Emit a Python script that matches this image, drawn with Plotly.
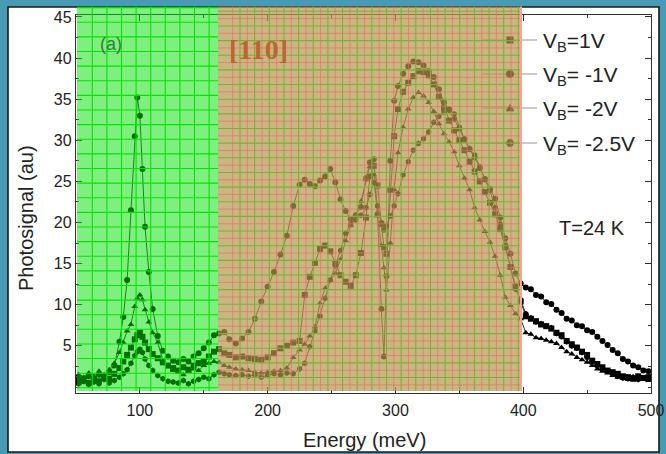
import math
import plotly.graph_objects as go

# ---- data: photosignal spectra at four bias voltages ----
energy = [52, 56, 60, 64, 68, 72, 76, 80, 84, 87, 90, 93, 96, 98, 100, 102, 104, 107, 110, 114,
          118, 122, 126, 130, 134, 138, 142, 146, 150, 154, 158,
          162, 166, 170, 175, 180, 185, 190, 195, 200, 205, 210, 215, 220, 225, 229, 233, 237, 241,
          245, 249, 253, 257, 261, 265, 269, 273, 277, 280, 283, 286, 289, 291, 293, 296, 299, 302,
          306, 310, 314, 318, 322, 326, 330, 334, 338, 342, 346, 350, 354, 358, 362, 366, 370, 374,
          378, 382, 386, 390, 394, 398,
          402, 406, 410, 414, 418, 422, 426, 430, 434, 438, 442, 446, 450, 454, 458, 462, 466, 470,
          474, 478, 482, 486, 490, 494, 498]

vb_p1 = [0.6, 1.0, 0.5, 0.9, 0.7, 1.2, 1.0, 1.6, 2.3, 3.1, 3.9, 4.8, 5.8, 6.3, 6.6, 6.1, 5.4, 4.6, 4.0, 3.5,
         3.0, 2.6, 2.3, 2.0, 2.4, 2.1, 2.6, 2.9, 3.1, 3.7, 4.3,
         4.6, 4.1, 3.9, 3.6, 3.7, 3.5, 3.4, 3.3, 3.6, 4.1, 4.7, 5.0, 5.4, 5.6, 11.2, 13.4, 15.1, 16.8,
         17.2, 16.5, 15.1, 13.6, 12.8, 12.3, 13.6, 16.3, 20.6, 25.6, 26.9, 24.5, 19.8, 17.0, 16.2, 24.0, 30.5, 33.8,
         35.9, 37.0, 37.8, 38.4, 38.3, 37.9, 36.8, 35.3, 33.9, 32.4, 31.2, 30.0, 28.8, 27.4, 26.2, 25.0, 23.7, 22.4,
         21.0, 19.2, 17.0, 14.6, 12.2, 10.4,
         8.6, 8.3, 8.0, 7.6, 7.4, 7.1, 6.6, 6.3, 5.6, 5.2, 4.8, 4.3, 3.9, 3.2, 2.8, 2.4, 2.0, 1.8,
         1.6, 1.3, 1.2, 1.0, 1.3, 1.1, 1.2]

vb_m1 = [1.0, 0.7, 1.3, 0.9, 1.5, 1.1, 1.8, 2.6, 5.5, 8.5, 13.0, 21.5, 30.5, 35.2, 33.0, 26.5, 19.5, 14.0, 9.5, 6.2,
         4.4, 3.7, 3.2, 3.0, 3.4, 3.1, 3.7, 4.1, 4.7, 5.4, 6.3,
         6.5, 6.7, 5.8, 5.3, 5.9, 6.7, 8.3, 10.4, 12.2, 14.0, 16.1, 18.4, 22.0, 24.6, 25.2, 24.7, 24.4, 25.1,
         25.6, 26.5, 24.9, 22.8, 21.4, 20.4, 20.9, 21.9, 25.4, 27.3, 27.7, 21.0, 9.5, 3.7, 13.5, 27.5, 34.8, 36.6,
         38.1, 39.0, 39.6, 39.5, 39.1, 38.4, 37.7, 36.2, 34.6, 33.7, 32.6, 31.4, 30.1, 28.9, 27.9, 26.6, 25.3, 24.1,
         22.9, 20.6, 18.1, 16.2, 13.8, 12.6,
         12.1, 11.9, 11.2, 11.0, 10.3, 10.1, 9.4, 9.0, 8.3, 8.1, 7.5, 7.4, 6.9, 6.7, 6.1, 5.6, 5.1, 4.5,
         4.1, 3.4, 3.1, 2.6, 2.4, 2.0, 1.9]

vb_m2 = [1.5, 1.2, 1.7, 1.3, 1.9, 1.5, 2.1, 2.9, 4.2, 5.4, 6.8, 7.6, 9.8, 10.8, 11.2, 10.6, 9.4, 7.9, 6.6, 5.4,
         3.2, 2.6, 2.0, 1.8, 1.5, 1.9, 2.2, 2.0, 2.6, 2.9, 3.1,
         3.0, 2.6, 2.4, 2.2, 2.1, 2.0, 1.8, 1.7, 1.8, 1.9, 2.0, 2.3, 3.6, 4.5, 5.2, 6.2, 7.3, 10.2,
         12.0, 13.0, 13.8, 15.5, 17.8, 19.6, 20.9, 22.6, 25.2, 26.8, 25.8, 20.8, 17.2, 14.5, 11.8, 17.5, 24.0, 28.5,
         31.6, 33.8, 35.2, 35.8, 35.4, 34.6, 33.5, 32.0, 30.8, 29.8, 28.6, 26.9, 25.4, 24.0, 21.8, 20.3, 18.9, 17.6,
         15.9, 13.6, 10.9, 9.9, 8.9, 8.3,
         6.6, 6.4, 6.0, 5.9, 5.7, 5.5, 5.3, 4.8, 4.3, 4.0, 3.6, 3.3, 3.0, 2.6, 2.2, 1.9, 1.7, 1.4,
         1.2, 1.1, 0.9, 1.2, 0.9, 1.0, 0.8]

vb_m25 = [0.4, 0.8, 0.3, 0.6, 0.4, 0.9, 0.5, 0.8, 1.2, 1.6, 2.1, 2.9, 3.8, 4.3, 4.6, 4.2, 3.4, 2.6, 2.0, 1.4,
          1.0, 0.7, 0.6, 0.5, 0.8, 0.4, 0.7, 0.9, 1.2, 1.0, 1.5,
          1.8, 1.6, 1.5, 1.4, 1.5, 1.3, 1.5, 1.2, 1.4, 1.6, 1.5, 1.7, 1.6, 2.2, 2.9, 4.9, 6.8, 8.6,
          10.8, 13.0, 14.7, 16.6, 18.7, 19.8, 20.3, 20.9, 21.8, 23.4, 24.9, 22.0, 20.0, 19.1, 19.6, 20.8, 22.0, 23.5,
          25.8, 27.4, 28.8, 29.6, 30.2, 31.0, 32.2, 32.9, 33.4, 33.8, 33.2, 31.6, 30.2, 29.0, 28.2, 26.8, 25.2, 23.9,
          21.8, 19.8, 17.2, 14.6, 11.9, 10.6,
          8.9, 8.4, 7.9, 7.7, 7.4, 7.2, 6.5, 6.1, 5.5, 5.0, 4.7, 4.2, 3.6, 3.1, 2.6, 2.2, 1.9, 1.6,
          1.3, 1.1, 1.0, 1.2, 0.9, 1.1, 1.0]

series_names = ["V<sub>B</sub>=1V", "V<sub>B</sub>= -1V", "V<sub>B</sub>= -2V", "V<sub>B</sub>= -2.5V"]
series_values = [vb_p1, vb_m1, vb_m2, vb_m25]
series_symbols = ["square", "circle", "triangle-up", "hexagon"]

x_ticks = [100, 200, 300, 400, 500]
y_ticks = [5, 10, 15, 20, 25, 30, 35, 40, 45]

# ---- page geometry (pixels) ----
W, H = 666, 454
ML, MR, MT, MB = 76, 15, 15, 61
PW, PH = W - ML - MR, H - MT - MB


def px(x):
    return (x - ML) / PW


def py(y):
    return (H - MB - y) / PH


FONT = "Arial, Liberation Sans, sans-serif"
AXC = "#333333"

fig = go.Figure()

for name, vals, sym in zip(series_names, series_values, series_symbols):
    fig.add_trace(go.Scatter(
        x=energy, y=vals, mode="lines+markers", name=name, showlegend=False,
        line=dict(color="rgb(45,45,45)", width=1),
        marker=dict(symbol=sym, size=6, color="black"),
    ))

shapes = []
# white panel with dark frame
shapes.append(dict(type="rect", xref="paper", yref="paper", layer="below",
                   x0=px(8), x1=px(659), y0=py(452), y1=py(7),
                   fillcolor="white", line=dict(color="#1a1a1a", width=1.6)))


def vline(x, y0, y1, color, width, layer="above"):
    return dict(type="line", xref="paper", yref="paper", layer=layer,
                x0=px(x), x1=px(x), y0=py(y0), y1=py(y1), line=dict(color=color, width=width))


def hline(y, x0, x1, color, width, layer="above"):
    return dict(type="line", xref="paper", yref="paper", layer=layer,
                x0=px(x0), x1=px(x1), y0=py(y), y1=py(y), line=dict(color=color, width=width))


def poly(cx, cy, r, n, rot):
    pts = [(cx + r * math.cos(rot + 2 * math.pi * i / n), cy + r * math.sin(rot + 2 * math.pi * i / n))
           for i in range(n)]
    return "M " + " L ".join(f"{px(a):.5f},{py(b):.5f}" for a, b in pts) + " Z"


# legend keys (drawn beneath the tinted band)
LEG_X0, LEG_X1, LEG_MX = 483, 537, 510
LEG_Y = [40, 74, 108, 143]
for sym, ly in zip(series_symbols, LEG_Y):
    shapes.append(hline(ly, LEG_X0, LEG_X1, "rgb(150,150,150)", 1.2, layer="below"))
    if sym == "square":
        path = poly(LEG_MX, ly, 4.6, 4, math.pi / 4)
    elif sym == "circle":
        path = poly(LEG_MX, ly, 3.8, 24, 0)
    elif sym == "triangle-up":
        path = poly(LEG_MX, ly + 0.8, 4.6, 3, -math.pi / 2)
    else:
        path = poly(LEG_MX, ly, 4.0, 6, 0)
    shapes.append(dict(type="path", xref="paper", yref="paper", layer="below", path=path,
                       fillcolor="black", line=dict(color="black", width=0.5)))

TOP, BOT = 6.5, 391
GX0, GX1, BX1 = 77, 218, 521

# green band
shapes.append(dict(type="rect", xref="paper", yref="paper", layer="above",
                   x0=px(GX0), x1=px(GX1), y0=py(BOT), y1=py(TOP),
                   fillcolor="rgb(0,225,0)", opacity=0.5, line=dict(width=0)))
GREEN = "rgb(0,228,0)"
for k in range(0, 9):
    shapes.append(vline(92.3 + 14.6 * k, BOT, TOP, GREEN, 1.1))
for k in range(-1, 26):
    y = 22.3 + 14.62 * k
    if TOP <= y <= BOT:
        shapes.append(hline(y, GX0, GX1, GREEN, 1.1))

# brown band: green paper grid beneath, red grid on top
k = 0
while 240 + 14.65 * k < BX1:
    shapes.append(vline(240 + 14.65 * k, BOT, TOP, GREEN, 1.1))
    k += 1
for k in range(-2, 26):
    y = 40.6 + 14.65 * k
    if TOP <= y <= BOT:
        shapes.append(hline(y, GX1, BX1, GREEN, 1.1))
shapes.append(dict(type="rect", xref="paper", yref="paper", layer="above",
                   x0=px(GX1), x1=px(BX1), y0=py(BOT), y1=py(TOP),
                   fillcolor="rgb(178,153,78)", opacity=0.7, line=dict(width=0)))
RED = "rgba(245,100,90,0.62)"
k = 0
while 232.7 + 14.65 * k < BX1:
    shapes.append(vline(232.7 + 14.65 * k, BOT, TOP, RED, 1))
    k += 1
for k in range(-1, 25):
    y = 33.3 + 14.65 * k
    if TOP <= y <= BOT:
        shapes.append(hline(y, GX1, BX1, RED, 1))
shapes.append(vline(BX1, BOT, TOP, "rgb(255,160,160)", 2))

annotations = [
    dict(text="Energy (meV)", xref="paper", yref="paper", x=px(364), y=py(440),
         showarrow=False, font=dict(family=FONT, size=20, color="#222"), xanchor="center", yanchor="middle"),
    dict(text="Photosignal (au)", xref="paper", yref="paper", x=px(26), y=py(218),
         showarrow=False, textangle=-90, font=dict(family=FONT, size=20, color="#222"),
         xanchor="center", yanchor="middle"),
    dict(text="(a)", xref="paper", yref="paper", x=px(111), y=py(44), showarrow=False,
         font=dict(family=FONT, size=18, color="rgb(60,118,72)"), xanchor="center", yanchor="middle"),
    dict(text="<b>[110]</b>", xref="paper", yref="paper", x=px(258), y=py(49), showarrow=False,
         font=dict(family="Liberation Serif, DejaVu Serif, serif", size=28, color="rgb(190,100,50)"),
         xanchor="center", yanchor="middle"),
    dict(text="T=24 K", xref="paper", yref="paper", x=px(592), y=py(228), showarrow=False,
         font=dict(family=FONT, size=20, color="#222"), xanchor="center", yanchor="middle"),
]
for name, ly in zip(series_names, LEG_Y):
    annotations.append(dict(text=name, xref="paper", yref="paper", x=px(541), y=py(ly - 13),
                            showarrow=False, xanchor="left", yanchor="top",
                            font=dict(family=FONT, size=21, color="#222")))

fig.update_layout(
    width=W, height=H,
    margin=dict(l=ML, r=MR, t=MT, b=MB, pad=0, autoexpand=False),
    paper_bgcolor="rgb(72,155,180)",
    plot_bgcolor="white",
    font=dict(family=FONT, color="#222"),
    showlegend=False,
    shapes=shapes,
    annotations=annotations,
    xaxis=dict(range=[50, 500], tickvals=x_ticks, ticks="inside", ticklen=6, tickwidth=1.2,
               tickcolor=AXC, showline=True, linecolor=AXC, linewidth=1.3, mirror="ticks",
               showgrid=False, zeroline=False, automargin=False, ticklabelstandoff=3,
               minor=dict(ticks="inside", ticklen=3, dtick=50, tick0=0, tickcolor=AXC),
               tickfont=dict(family=FONT, size=16, color="#222")),
    yaxis=dict(range=[-0.73, 45.24], tickvals=y_ticks, ticks="inside", ticklen=6, tickwidth=1.2,
               tickcolor=AXC, showline=True, linecolor=AXC, linewidth=1.3, mirror="ticks",
               showgrid=False, zeroline=False, automargin=False,
               minor=dict(ticks="inside", ticklen=3, dtick=2.5, tick0=0, tickcolor=AXC),
               tickfont=dict(family=FONT, size=16, color="#222")),
)

fig.write_html("out.html")
